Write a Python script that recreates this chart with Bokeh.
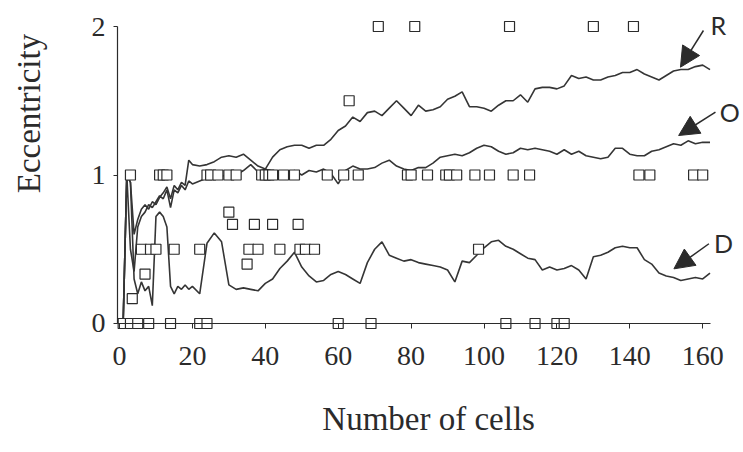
import math
from bokeh.plotting import figure
from bokeh.models import Range1d, LinearAxis, FixedTicker, Label, Arrow, NormalHead, Grid
from bokeh.embed import file_html
from bokeh.resources import INLINE

# ---- data ----
cells = list(range(1, 21)) + list(range(22, 163, 2))

ecc_R = [0, 1.0, 0.95, 0.6, 0.7, 0.77, 0.8, 0.77, 0.82, 0.8, 0.85, 0.88, 0.92, 0.84, 0.93, 0.9, 0.95, 0.93, 1.1, 1.07,
         1.06, 1.07, 1.09, 1.12, 1.13, 1.12, 1.14, 1.1, 1.06, 1.04, 1.12, 1.17, 1.19, 1.2, 1.2, 1.18, 1.2, 1.2, 1.24, 1.3, 1.33,
         1.39, 1.36, 1.42, 1.43, 1.40, 1.45, 1.5, 1.45, 1.40, 1.47, 1.43, 1.44, 1.46, 1.51, 1.53, 1.56, 1.46, 1.46, 1.45, 1.43,
         1.47, 1.5, 1.5, 1.54, 1.49, 1.58, 1.59, 1.59, 1.58, 1.6, 1.67, 1.65, 1.66, 1.64, 1.64, 1.66, 1.67, 1.69, 1.69, 1.71,
         1.68, 1.66, 1.64, 1.67, 1.7, 1.71, 1.71, 1.73, 1.74, 1.71]

ecc_O = [0, 1.0, 0.5, 0.35, 0.65, 0.72, 0.75, 0.8, 0.78, 0.82, 0.86, 0.84, 0.9, 0.78, 0.9, 0.88, 0.93, 0.9, 0.96, 0.94,
         0.96, 0.98, 1.0, 0.99, 1.01, 1.0, 1.03, 1.07, 1.02, 1.04, 1.02, 1.0, 1.01, 1.03, 1.0, 1.03, 1.02, 1.04, 1.01, 0.94, 1.03,
         1.06, 1.04, 1.04, 1.05, 1.08, 1.10, 1.06, 1.04, 1.03, 1.05, 1.05, 1.08, 1.12, 1.13, 1.14, 1.13, 1.15, 1.18, 1.20, 1.19,
         1.16, 1.14, 1.15, 1.18, 1.17, 1.18, 1.17, 1.16, 1.14, 1.17, 1.14, 1.16, 1.13, 1.12, 1.11, 1.12, 1.18, 1.18, 1.14, 1.13,
         1.13, 1.16, 1.17, 1.19, 1.21, 1.2, 1.23, 1.21, 1.22, 1.22]

ecc_D = [0, 1.0, 0.95, 0.3, 0.2, 0.28, 0.22, 0.25, 0.12, 0.72, 0.75, 0.72, 0.65, 0.25, 0.2, 0.25, 0.23, 0.26, 0.23, 0.25,
         0.2, 0.54, 0.61, 0.55, 0.26, 0.23, 0.24, 0.23, 0.22, 0.27, 0.3, 0.37, 0.42, 0.48, 0.38, 0.32, 0.28, 0.29, 0.33, 0.35, 0.33,
         0.30, 0.27, 0.41, 0.5, 0.55, 0.46, 0.44, 0.42, 0.43, 0.41, 0.40, 0.39, 0.38, 0.36, 0.28, 0.42, 0.41, 0.46, 0.51, 0.55,
         0.56, 0.52, 0.50, 0.47, 0.44, 0.43, 0.36, 0.38, 0.36, 0.37, 0.39, 0.36, 0.30, 0.45, 0.46, 0.48, 0.51, 0.52, 0.51, 0.51,
         0.43, 0.40, 0.34, 0.32, 0.31, 0.29, 0.30, 0.31, 0.30, 0.34]

# individual cell eccentricities (open squares)
pts_x = [71, 81, 107, 130, 141,
         63,
         3, 11, 12, 13, 24, 25, 27, 30, 32, 39, 40, 41, 42, 45, 48, 57, 61.5, 65.5, 79, 80, 84.5, 89.5, 90.5, 92.5,
         97.5, 101.5, 108, 112.5, 142.5, 145.5, 157.5, 160,
         30,
         31, 37, 42, 49,
         6, 8.5, 10, 15, 22, 35.5, 38, 44, 49.5, 51, 53.5, 98.5,
         35,
         7,
         3.5,
         1, 3, 5, 8, 14, 22, 24, 60, 69, 106, 114, 120, 122]
pts_y = [2, 2, 2, 2, 2,
         1.5,
         1, 1, 1, 1, 1, 1, 1, 1, 1, 1, 1, 1, 1, 1, 1, 1, 1, 1, 1, 1, 1, 1, 1, 1,
         1, 1, 1, 1, 1, 1, 1, 1,
         0.75,
         0.667, 0.667, 0.667, 0.667,
         0.5, 0.5, 0.5, 0.5, 0.5, 0.5, 0.5, 0.5, 0.5, 0.5, 0.5, 0.5,
         0.4,
         0.333,
         0.167,
         0, 0, 0, 0, 0, 0, 0, 0, 0, 0, 0, 0, 0]

x_ticks = [0, 20, 40, 60, 80, 100, 120, 140, 160]
y_ticks = [0, 1, 2]

INK = "#2b2b2b"
LINE = "#353535"
SERIF = "Liberation Serif"

# the frame fills the whole canvas; axes are drawn at fixed data locations
p = figure(width=743, height=452,
           x_range=Range1d(-32.65, 171.19), y_range=Range1d(-0.8687, 2.1751),
           output_backend="svg", toolbar_location=None,
           x_axis_location=None, y_axis_location=None,
           min_border_left=0, min_border_right=0, min_border_top=0, min_border_bottom=0)
p.outline_line_color = None
p.background_fill_color = "white"
p.border_fill_color = "white"
p.center = [c for c in p.center if not isinstance(c, Grid)]

yaxis = LinearAxis(fixed_location=-0.55, bounds=(0, 2), ticker=FixedTicker(ticks=y_ticks))
yaxis.axis_line_color = INK
yaxis.axis_line_width = 1.2
yaxis.major_tick_line_color = INK
yaxis.major_tick_in = 0
yaxis.major_tick_out = 4
yaxis.minor_tick_line_color = None
yaxis.major_label_text_font = SERIF
yaxis.major_label_text_font_size = "28px"
yaxis.major_label_text_color = INK
yaxis.major_label_standoff = 8
p.add_layout(yaxis, "left")

xaxis = LinearAxis(fixed_location=0, bounds=(-0.55, 162.2), ticker=FixedTicker(ticks=x_ticks))
xaxis.axis_line_color = INK
xaxis.axis_line_width = 1.2
xaxis.major_tick_line_color = INK
xaxis.major_tick_in = 0
xaxis.major_tick_out = 5
xaxis.minor_tick_line_color = None
xaxis.major_label_text_font = SERIF
xaxis.major_label_text_font_size = "28px"
xaxis.major_label_text_color = INK
xaxis.major_label_standoff = 19
p.add_layout(xaxis, "below")

p.add_layout(Label(x=84.8, y=-0.646, text="Number of cells", text_align="center", text_baseline="middle",
                   text_font=SERIF, text_font_size="33px", text_color=INK))
p.add_layout(Label(x=-24.7, y=1.414, text="Eccentricity", angle=math.pi / 2, text_align="center",
                   text_baseline="middle", text_font=SERIF, text_font_size="33px", text_color=INK))

for ys in (ecc_D, ecc_O, ecc_R):
    p.line(cells, ys, line_color=LINE, line_width=1.6)

p.scatter(pts_x, pts_y, marker="square", size=10, line_color=INK, line_width=1.2, fill_color="white")

for (xs, ys, xe, ye) in [(160.2, 1.973, 153.9, 1.726), (163.5, 1.423, 153.4, 1.266), (161.7, 0.537, 152.1, 0.368)]:
    p.add_layout(Arrow(x_start=xs, y_start=ys, x_end=xe, y_end=ye, line_color=INK, line_width=1.5,
                       end=NormalHead(size=20, fill_color=INK, line_color=INK)))

for (t, lx, ly) in [("R", 164.3, 2.01), ("O", 167.4, 1.423), ("D", 165.7, 0.539)]:
    p.add_layout(Label(x=lx, y=ly, text=t, text_align="center", text_baseline="middle",
                       text_font="Lato", text_font_size="25px", text_color=INK))

open("out.html", "w").write(file_html(p, INLINE))
